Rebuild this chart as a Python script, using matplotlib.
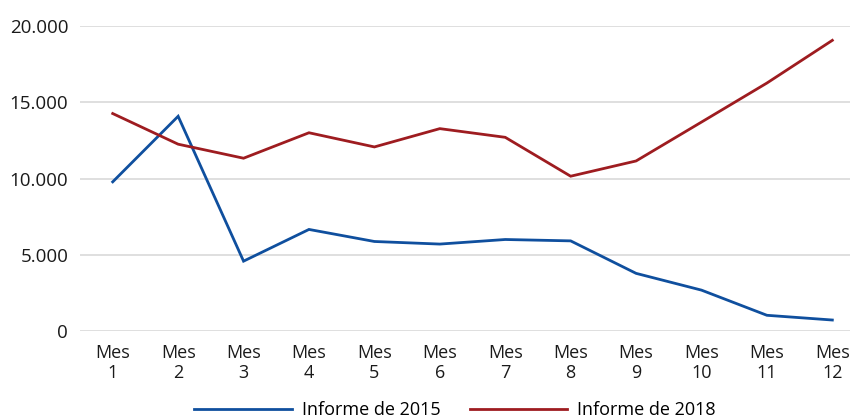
import matplotlib
matplotlib.use("Agg")
import matplotlib.pyplot as plt
from matplotlib import font_manager

months = ["Mes\n1", "Mes\n2", "Mes\n3", "Mes\n4", "Mes\n5", "Mes\n6",
          "Mes\n7", "Mes\n8", "Mes\n9", "Mes\n10", "Mes\n11", "Mes\n12"]
informe_2015 = [9780, 14080, 4580, 6660, 5870, 5700, 6000, 5910, 3780, 2680, 1030, 720]
informe_2018 = [14260, 12250, 11330, 13000, 12070, 13270, 12700, 10150, 11150, 13700, 16260, 19060]
y_ticks = [0, 5000, 10000, 15000, 20000]
y_tick_labels = ["0", "5.000", "10.000", "15.000", "20.000"]

available = {f.name for f in font_manager.fontManager.ttflist}
narrow = "Liberation Sans Narrow" if "Liberation Sans Narrow" in available else "Open Sans"

plt.rcParams["font.family"] = ["Open Sans", "DejaVu Sans"]

fig = plt.figure(figsize=(8.5, 4.19), dpi=100)
ax = fig.add_axes([80 / 850, 1 - 331 / 419, 1 - 80 / 850, (331 - 26) / 419])

x = list(range(1, len(months) + 1))
ax.plot(x, informe_2015, color="#0F4F9E", lw=2.0, label="Informe de 2015",
        solid_joinstyle="miter")
ax.plot(x, informe_2018, color="#9E1C20", lw=2.0, label="Informe de 2018",
        solid_joinstyle="miter")

ax.set_ylim(0, 20000)
ax.set_xlim(0.5, 12.27)
ax.set_yticks(y_ticks)
ax.set_yticklabels(y_tick_labels, fontsize=13.5, color="#1a1a1a")
ax.set_xticks(x)
ax.set_xticklabels(months, fontsize=13, family=[narrow, "DejaVu Sans"],
                   color="#1a1a1a", linespacing=1.15)
ax.tick_params(axis="both", length=0)
ax.tick_params(axis="y", pad=8.5)
ax.tick_params(axis="x", pad=9)

ax.grid(axis="y", color="#d9d9d9", lw=1.2)
ax.set_axisbelow(True)
for s in ax.spines.values():
    s.set_visible(False)

leg = fig.legend(loc="center", bbox_to_anchor=(455 / 850, 1 - 410 / 419), ncol=2,
                 frameon=False, handlelength=5.4, columnspacing=1.65,
                 handletextpad=0.55,
                 prop={"family": [narrow, "DejaVu Sans"], "size": 13})

fig.savefig("out.png", dpi=100)
